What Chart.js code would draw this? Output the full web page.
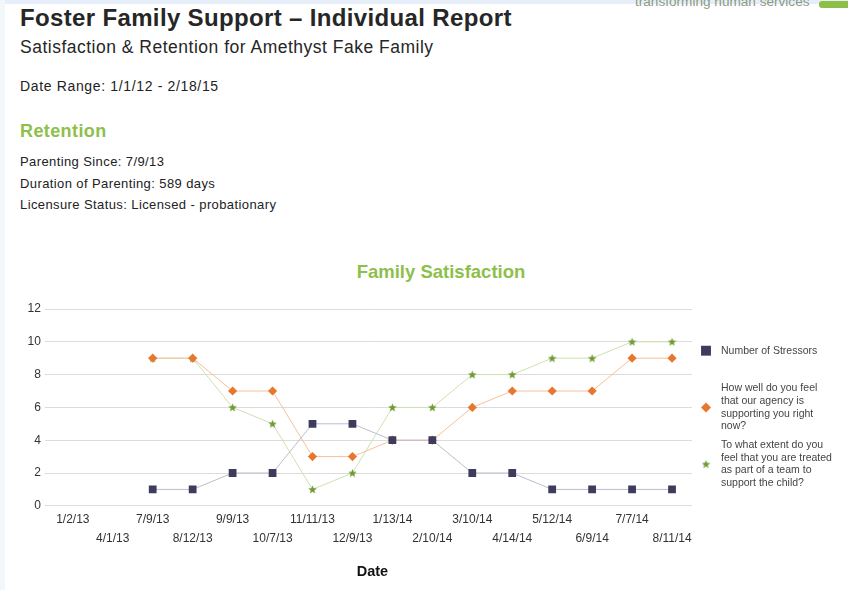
<!DOCTYPE html>
<html>
<head>
<meta charset="utf-8">
<script src="https://cdn.jsdelivr.net/npm/chart.js@4"></script>
<style>
  html, body { margin:0; padding:0; width:848px; height:590px; overflow:hidden; background:#fff; font-family:"Liberation Sans", Arial, sans-serif; color:#222; }
  .strip-top { position:absolute; left:0; top:0; width:848px; height:4px; background:#e6eff9; }
  .strip-left { position:absolute; left:0; top:0; width:5px; height:590px; background:#f2f7fc; }
  .logo { position:absolute; left:635px; top:-6px; font-size:13.6px; color:#8e9a82; white-space:nowrap; }
  .logo-bar { position:absolute; left:819px; top:1px; width:29px; height:7px; background:#8cbf48; border-radius:3px 0 0 3px; }
  .t { position:absolute; left:20px; white-space:nowrap; line-height:1.2; }
  #h1 { top:4px; font-size:24px; letter-spacing:0.35px; font-weight:bold; color:#262626; }
  #h2 { top:37px; font-size:17.5px; letter-spacing:0.5px; color:#262626; }
  #dr { top:78px; font-size:14px; letter-spacing:0.65px; }
  #ret { top:121px; font-size:18px; letter-spacing:0.4px; font-weight:bold; color:#8dbf4b; }
  .s { font-size:13px; letter-spacing:0.4px; }
  #ctitle { position:absolute; left:241px; width:400px; top:261px; text-align:center; font-size:18.5px; font-weight:bold; color:#8dbf4b; }
  #wrap { position:absolute; left:0; top:250px; width:848px; height:340px; }
</style>
</head>
<body>
<div class="strip-top"></div>
<div class="strip-left"></div>
<div class="logo">transforming human services</div>
<div class="logo-bar"></div>
<div class="t" id="h1">Foster Family Support – Individual Report</div>
<div class="t" id="h2">Satisfaction &amp; Retention for Amethyst Fake Family</div>
<div class="t" id="dr">Date Range: 1/1/12 - 2/18/15</div>
<div class="t" id="ret">Retention</div>
<div class="t s" style="top:153.5px">Parenting Since: 7/9/13</div>
<div class="t s" style="top:176px">Duration of Parenting: 589 days</div>
<div class="t s" style="top:197px">Licensure Status: Licensed - probationary</div>
<div id="ctitle">Family Satisfaction</div>
<div id="wrap"><canvas id="c"></canvas></div>
<script>
const categories = ["1/2/13","4/1/13","7/9/13","8/12/13","9/9/13","10/7/13","11/11/13","12/9/13","1/13/14","2/10/14","3/10/14","4/14/14","5/12/14","6/9/14","7/7/14","8/11/14"];
const stressors = [null,null,1,1,2,2,5,5,4,4,2,2,1,1,1,1];
const agencySupport = [null,null,9,9,7,7,3,3,4,4,6,7,7,7,9,9];
const teamTreatment = [null,null,9,9,6,5,1,2,6,6,8,8,9,9,10,10];
const seriesLabels = ["Number of Stressors","How well do you feel that our agency is supporting you right now?","To what extent do you feel that you are treated as part of a team to support the child?"];
const legendLines = [
  ["Number of Stressors"],
  ["How well do you feel","that our agency is","supporting you right","now?"],
  ["To what extent do you","feel that you are treated","as part of a team to","support the child?"]
];
const yTicks = [0,2,4,6,8,10,12];

function makeStar(size, color) {
  const cv = document.createElement('canvas');
  cv.width = size; cv.height = size;
  const g = cv.getContext('2d');
  const cx = size/2, cy = size/2 + 0.4, R = size/2, r = R*0.42;
  g.beginPath();
  for (let k = 0; k < 10; k++) {
    const a = -Math.PI/2 + k*Math.PI/5;
    const rr = k % 2 === 0 ? R : r;
    const px = cx + rr*Math.cos(a), py = cy + rr*Math.sin(a);
    k === 0 ? g.moveTo(px, py) : g.lineTo(px, py);
  }
  g.closePath();
  g.fillStyle = color; g.fill();
  return cv;
}
const starImg = makeStar(9, '#6e9a30');

const legendPlugin = {
  id: 'sideLegend',
  afterDraw(chart) {
    const ctx = chart.ctx, ca = chart.chartArea;
    const cy = (ca.top + ca.bottom) / 2;
    const slot = 56.7, lh = 12.7;
    const mx = ca.right + 14, tx = ca.right + 29;
    ctx.save();
    ctx.font = '10.5px "Liberation Sans", Arial, sans-serif';
    ctx.fillStyle = '#444';
    ctx.textBaseline = 'middle';
    ctx.textAlign = 'left';
    chart.data.datasets.forEach((ds, i) => {
      const yc = cy + (i - 1) * slot;
      const lines = legendLines[i];
      const y0 = yc - (lines.length - 1) * lh / 2;
      lines.forEach((ln, j) => ctx.fillText(ln, tx, y0 + j * lh));
      if (i === 2) {
        ctx.drawImage(starImg, mx - 4.5, yc - 4.5);
      } else {
        ctx.fillStyle = ds.pointBackgroundColor;
        Chart.helpers.drawPoint(ctx, { pointStyle: ds.pointStyle, radius: i === 0 ? 7 : 5, borderWidth: 0, rotation: 0 }, mx, yc);
        ctx.fillStyle = '#444';
      }
    });
    ctx.restore();
  }
};

new Chart(document.getElementById('c'), {
  type: 'line',
  data: {
    labels: categories,
    datasets: [
      { label: seriesLabels[0], data: stressors, borderColor:'#bdbccd', backgroundColor:'#3e3c5e', pointBackgroundColor:'#3e3c5e', pointBorderColor:'#3e3c5e', pointStyle:'rect', pointRadius:5.5, pointBorderWidth:0, borderWidth:1 },
      { label: seriesLabels[1], data: agencySupport, borderColor:'#f7bf9a', backgroundColor:'#e8772e', pointBackgroundColor:'#e8772e', pointBorderColor:'#e8772e', pointStyle:'rectRot', pointRadius:4.6, pointBorderWidth:0, borderWidth:1 },
      { label: seriesLabels[2], data: teamTreatment, borderColor:'#cde2ae', backgroundColor:'#6e9a30', pointBackgroundColor:'#6e9a30', pointBorderColor:'#6e9a30', pointStyle: starImg, pointRadius:4.5, borderWidth:1 }
    ]
  },
  options: {
    responsive: true,
    maintainAspectRatio: false,
    animation: false,
    layout: { padding: { left: 23.5, right: 156, top: 59, bottom: 9 } },
    plugins: {
      legend: { display:false },
      tooltip: { enabled:false }
    },
    scales: {
      x: {
        offset: true,
        grid: { display:false, drawTicks:false },
        border: { display:false },
        ticks: {
          autoSkip:false, maxRotation:0, minRotation:0,
          color:'#333',
          font:{ family:'"Liberation Sans", Arial', size:12, lineHeight:1.583 },
          padding: 4.5,
          callback(v, i) { return i % 2 === 0 ? categories[i] : ['', categories[i]]; }
        },
        title: { display:true, text:'Date', color:'#111', font:{ family:'"Liberation Sans", Arial', size:14.5, weight:'bold' }, padding:{ top:10.8, bottom:0 } }
      },
      y: {
        min: 0, max: 12,
        afterBuildTicks(axis) { axis.ticks = yTicks.map(v => ({ value: v })); },
        grid: { color:'#dcdcdc', lineWidth:1, drawTicks:true, tickLength:8, tickColor:'#dcdcdc' },
        border: { display:false },
        ticks: { color:'#333', font:{ family:'"Liberation Sans", Arial', size:12 }, padding:4 }
      }
    }
  },
  plugins: [legendPlugin]
});
</script>
</body>
</html>
